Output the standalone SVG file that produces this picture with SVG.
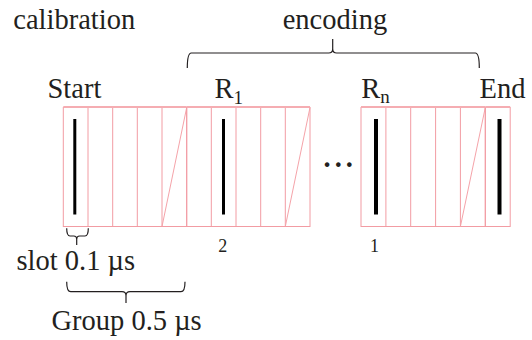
<svg xmlns="http://www.w3.org/2000/svg" width="532" height="340" viewBox="0 0 532 340">
<style>
text{font-family:'Liberation Serif','Times New Roman',serif;fill:#231f20;font-size:28.5px}
.sub{font-size:19px}
.num{font-size:18px}
.slot{fill:none;stroke:#f29ca3;stroke-width:1}
.top{stroke:#f5adb2;stroke-width:2}
.diag{stroke:#f5a3a9;stroke-width:1}
.bar{fill:#000}
.brace{fill:none;stroke:#231f20;stroke-width:1.2}
</style>
<rect width="532" height="340" fill="#fff"/>
<text x="13.3" y="28.5">calibration</text>
<text x="282.7" y="28.5">encoding</text>

<g id="calibration-group">
  <rect class="slot" x="63.3" y="107.5" width="123.4" height="119"/>
  <line class="slot" x1="88" y1="107.5" x2="88" y2="226.5"/>
  <line class="slot" x1="112.7" y1="107.5" x2="112.7" y2="226.5"/>
  <line class="slot" x1="137.3" y1="107.5" x2="137.3" y2="226.5"/>
  <line class="slot" x1="162" y1="107.5" x2="162" y2="226.5"/>
  <line class="top" x1="63.3" y1="107" x2="186.7" y2="107"/>
  <line class="diag" x1="162" y1="226.5" x2="186.7" y2="107.5"/>
  <rect class="bar" x="73.3" y="119" width="3" height="95.5"/>
  <text x="47.5" y="98">Start</text>
</g>

<g id="r1-group">
  <rect class="slot" x="186.7" y="107.5" width="123.3" height="119"/>
  <line class="slot" x1="211.3" y1="107.5" x2="211.3" y2="226.5"/>
  <line class="slot" x1="236" y1="107.5" x2="236" y2="226.5"/>
  <line class="slot" x1="260.7" y1="107.5" x2="260.7" y2="226.5"/>
  <line class="slot" x1="285.3" y1="107.5" x2="285.3" y2="226.5"/>
  <line class="top" x1="186.7" y1="107" x2="310" y2="107"/>
  <line class="diag" x1="285.3" y1="226.5" x2="310" y2="107.5"/>
  <rect class="bar" x="222" y="119" width="3" height="95.5"/>
  <text x="214.5" y="98">R<tspan class="sub" x="233.5" y="104">1</tspan></text>
  <text class="num" x="218.3" y="252.3">2</text>
</g>

<text x="323.5" y="167" font-size="24" font-weight="bold" letter-spacing="4">...</text>

<g id="rn-group">
  <rect class="slot" x="361" y="107.5" width="124.3" height="119"/>
  <line class="slot" x1="385.9" y1="107.5" x2="385.9" y2="226.5"/>
  <line class="slot" x1="410.7" y1="107.5" x2="410.7" y2="226.5"/>
  <line class="slot" x1="435.6" y1="107.5" x2="435.6" y2="226.5"/>
  <line class="slot" x1="460.4" y1="107.5" x2="460.4" y2="226.5"/>
  <line class="top" x1="361" y1="107" x2="485.3" y2="107"/>
  <line class="diag" x1="460.4" y1="226.5" x2="485.3" y2="107.5"/>
  <rect class="bar" x="374" y="119" width="4" height="95.5"/>
  <text x="361.2" y="98">R<tspan class="sub" x="380.2" y="103">n</tspan></text>
  <text class="num" x="370" y="252.3">1</text>
</g>

<g id="end-slot">
  <rect class="slot" x="485.3" y="107.5" width="24.9" height="119"/>
  <line class="top" x1="485.3" y1="107" x2="510.2" y2="107"/>
  <rect class="bar" x="497.5" y="119" width="4" height="95.5"/>
  <text x="479.5" y="98">End</text>
</g>

<g id="connectors">
  <path class="brace" d="M187.3 68 Q187.3 53 191.3 53 H328.7 Q332.7 53 332.7 49 V39 M332.7 49 Q332.7 53 336.7 53 H475.3 Q479.3 53 479.3 68"/>
  <path class="brace" d="M66.7 228.3 Q66.7 236 70 236 H73.7 Q76.7 236 76.7 239 V245 M76.7 239 Q76.7 236 79.7 236 H85 Q88.3 236 88.3 228.3"/>
  <path class="brace" d="M66.7 281.7 Q66.7 291.7 70.7 291.7 H122 Q126 291.7 126 295.7 V303 M126 295.7 Q126 291.7 130 291.7 H181 Q185 291.7 185 281.7"/>
</g>

<text x="16.5" y="270">slot 0.1 µs</text>
<text x="51.5" y="330">Group 0.5 µs</text>
</svg>
